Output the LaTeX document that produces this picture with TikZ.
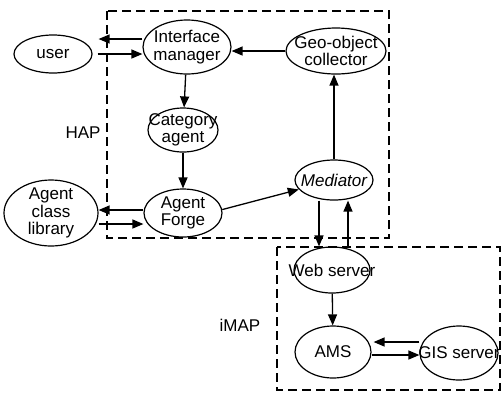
\documentclass[tikz,border=0pt]{standalone}
\usepackage{fontspec}
\setmainfont{Liberation Sans}
\usepackage{tikz}
\usetikzlibrary{arrows.meta,shapes.geometric}
\tikzset{
AgentBulle/.style={
 ellipse,
 draw=black,
 line width=1.2pt,
 inner sep=-25pt,
 align=center,
 font=\fontsize{17}{17.5}\selectfont
 },
Lien/.style={
 draw=black,
 line width=1.3pt,
 -{Triangle[length=11pt,width=9pt]}
 },
Zone/.style={
 draw=black,
 line width=2.8pt,
 dash pattern=on 9pt off 5pt
 },
Etiquette/.style={
 font=\fontsize{17}{18}\selectfont
 }
}
\begin{document}
\begin{tikzpicture}[x=1pt,y=-1pt]
\useasboundingbox (0,0) rectangle (503,392);
% zones
\draw[Zone] (107,11) rectangle (389,238);
\draw[Zone] (277,247) rectangle (500,390);
\node[Etiquette] (hap) at (83,133) {HAP};
\node[Etiquette] (imap) at (240,325) {iMAP};
% agents
\node[AgentBulle,minimum width=78pt,minimum height=38pt] (user) at (53,54) {user};
\node[AgentBulle,minimum width=88pt,minimum height=54pt] (im) at (187,47) {Interface\\manager};
\node[AgentBulle,minimum width=100pt,minimum height=46pt] (geo) at (336,51) {Geo-object\\collector};
\node[AgentBulle,minimum width=70pt,minimum height=44pt] (cat) at (183,130) {Category\\agent};
\node[AgentBulle,minimum width=78pt,minimum height=48pt] (forge) at (183,213) {Agent\\Forge};
\node[AgentBulle,minimum width=94pt,minimum height=66pt] (lib) at (51,213) {Agent\\class\\library};
\node[AgentBulle,minimum width=78pt,minimum height=40pt,font=\fontsize{17}{17.5}\selectfont\itshape] (med) at (334,180) {Mediator};
\node[AgentBulle,minimum width=76pt,minimum height=46pt] (web) at (332,270) {Web server};
\node[AgentBulle,minimum width=76pt,minimum height=52pt] (ams) at (333,352) {AMS};
\node[AgentBulle,minimum width=78pt,minimum height=54pt] (gis) at (459,353) {GIS server};
% liens
\draw[Lien] ([yshift=8pt]im.west) -- ([yshift=8pt,xshift=6pt]im.west -| user.east);
\draw[Lien] ([yshift=-7pt,xshift=5pt]im.west -| user.east) -- ([yshift=-7pt]im.west);
\draw[Lien] (geo.west) -- (geo.west -| im.east);
\draw[Lien] (im) -- (cat);
\draw[Lien] (cat) -- (forge);
\draw[Lien] ([yshift=3pt]forge.west) -- ([yshift=3pt]forge.west -| lib.east);
\draw[Lien] ([yshift=-11pt]lib.east) -- ([yshift=-11pt]lib.east -| forge.west);
\draw[Lien] (forge.5) -- (med.195);
\draw[Lien] (med.north) -- (med.north |- geo.south);
\draw[Lien] ([xshift=-15pt]med.south) -- ([xshift=-15pt]med.south |- web.north);
\draw[Lien] ([xshift=14pt]med.south |- web.north) -- ([xshift=14pt]med.south);
\draw[Lien] (web) -- (ams);
\draw[Lien] ([yshift=11pt]gis.west) -- ([yshift=11pt,xshift=2pt]gis.west -| ams.east);
\draw[Lien] ([yshift=-3pt]ams.east) -- ([yshift=-3pt]ams.east -| gis.west);
\end{tikzpicture}
\end{document}
